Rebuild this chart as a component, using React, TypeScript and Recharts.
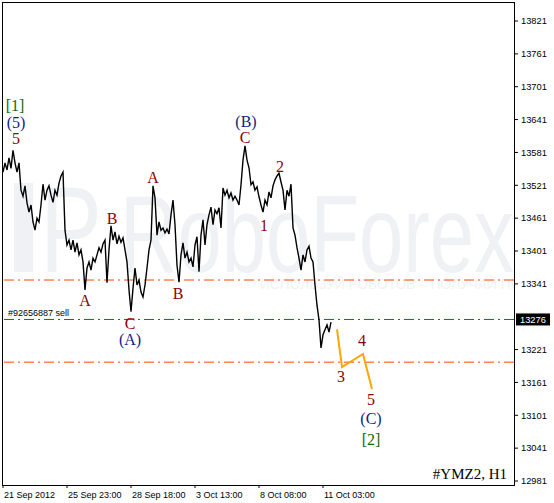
import React from 'react';
import { LineChart, Line, XAxis, YAxis, ReferenceLine, ReferenceDot, ReferenceArea } from 'recharts';

const W = 554;
const H = 503;

// H1 closes, read every second bar
const closes = [
  13545, 13562, 13549, 13571, 13552, 13585, 13562, 13545, 13562, 13512,
  13501, 13520, 13489, 13472, 13485, 13454, 13439, 13461, 13454, 13485,
  13523, 13494, 13512, 13520, 13503, 13490, 13512, 13503, 13525, 13538,
  13545, 13439, 13412, 13421, 13403, 13421, 13399, 13416, 13394, 13403,
  13381, 13330, 13370, 13381, 13366, 13388, 13381, 13394, 13407, 13399,
  13414, 13421, 13343, 13403, 13447, 13421, 13436, 13414, 13428, 13417,
  13425, 13403, 13381, 13330, 13290, 13333, 13370, 13339, 13348, 13326,
  13317, 13339, 13370, 13403, 13421, 13520, 13498, 13430, 13454, 13439,
  13443, 13434, 13441, 13432, 13467, 13494, 13449, 13375, 13344, 13394,
  13416, 13388, 13399, 13381, 13388, 13372, 13412, 13427, 13363, 13430,
  13458, 13412, 13449, 13467, 13481, 13449, 13476, 13469, 13480, 13443,
  13516, 13503, 13512, 13498, 13507, 13494, 13501, 13494, 13485, 13522,
  13567, 13593, 13567, 13553, 13522, 13527, 13512, 13518, 13500, 13485,
  13472, 13494, 13485, 13509, 13498, 13520, 13531, 13538, 13543, 13527,
  13512, 13476, 13512, 13501, 13523, 13443, 13430, 13407, 13388, 13366,
  13394, 13381, 13403, 13410, 13388, 13381, 13339, 13302, 13275, 13224,
  13248, 13257, 13266, 13253, 13271,
];
const priceData = closes.map((close, i) => ({ bar: 1 + i * 2, close }));

// forecast path 3-4-5
const projBars = [335, 340, 361, 370];
const projPrices = [13258, 13189, 13213, 13149];
const projData = projBars.map((bar, i) => ({ bar, proj: projPrices[i] }));

const tickBars = [1, 65, 129, 193, 257, 321];
const tickLabels = ['21 Sep 2012', '25 Sep 23:00', '28 Sep 18:00', '3 Oct 13:00', '8 Oct 08:00', '11 Oct 03:00'];
const priceTicks = [12981, 13041, 13101, 13161, 13221, 13341, 13401, 13461, 13521, 13581, 13641, 13701, 13761, 13821];

const levels = [13348, 13198];
const orderPrice = 13276;
const orderName = '#92656887 sell';

const RED = '#8B0000';
const BLUE = '#0F1C8A';
const GREEN = '#0B6B0B';

const waveLabels = [
  { text: '[1]', bar: 13, price: 13666, color: GREEN },
  { text: '(5)', bar: 14, price: 13635, color: BLUE },
  { text: '5', bar: 14, price: 13607, color: RED },
  { text: 'A', bar: 83, price: 13311, color: RED },
  { text: 'B', bar: 110, price: 13461, color: RED },
  { text: 'C', bar: 128, price: 13268, color: RED },
  { text: '(A)', bar: 128, price: 13240, color: BLUE },
  { text: 'A', bar: 151, price: 13536, color: RED },
  { text: 'B', bar: 176, price: 13324, color: RED },
  { text: '(B)', bar: 244, price: 13638, color: BLUE },
  { text: 'C', bar: 243, price: 13609, color: RED },
  { text: '1', bar: 262, price: 13448, color: RED },
  { text: '2', bar: 278, price: 13556, color: RED },
  { text: '3', bar: 339, price: 13171, color: RED },
  { text: '4', bar: 360, price: 13237, color: RED },
  { text: '5', bar: 369, price: 13129, color: RED },
  { text: '(C)', bar: 369, price: 13096, color: BLUE },
  { text: '[2]', bar: 369, price: 13056, color: GREEN },
];

const Y_MIN = 12973.7;
const Y_MAX = 13855.7;
const SANS = 'Liberation Sans, Arial, sans-serif';
const SERIF = 'Liberation Serif, Times New Roman, serif';

const DateTick = (props: any) => {
  const { x, y, payload } = props;
  const idx = tickBars.indexOf(payload.value);
  return (
    <text x={x + 1} y={y + 8} fontSize={9} fontFamily={SANS} fill="#000" textAnchor="start">
      {tickLabels[idx]}
    </text>
  );
};

const OrderLabel = (props: any) => {
  const { x, y, width } = props.viewBox;
  return (
    <g>
      <text x={x + 6} y={y - 3} fontSize={9} fontFamily={SANS} fill="#000">{orderName}</text>
      <rect x={x + width + 2} y={y - 6} width={34} height={12} fill="#000" />
      <text x={x + width + 6} y={y + 3.5} fontSize={9.3} fontFamily={SANS} fill="#fff">{orderPrice}</text>
    </g>
  );
};

const WM = '#eff1f5';

const App: React.FC = () => {
  return (
    <div style={{ position: 'fixed', left: 0, top: 0, width: W, height: H, background: '#fff' }}>
      <svg width={W} height={H} style={{ position: 'absolute', left: 0, top: 0 }}>
        <defs>
          <clipPath id="plotClip">
            <rect x={2} y={2} width={512} height={483} />
          </clipPath>
        </defs>
        <g clipPath="url(#plotClip)">
          <rect x={14} y={183} width={19} height={89} fill={WM} />
          <text x={40} y={272} fontSize={122} fontFamily={SANS} fill={WM} textLength={62} lengthAdjust="spacingAndGlyphs">P</text>
          <text x={120} y={272} fontSize={110} fontFamily={SANS} fill={WM} textLength={394} lengthAdjust="spacingAndGlyphs">RoboForex</text>
          <text x={260} y={289} fontSize={14} fontFamily={SANS} fill="#f1f3f6" textLength={290} lengthAdjust="spacingAndGlyphs">ИСПОЛЬЗУЙ РОБОТОВ – ПОЛУЧАЙ ПРИЗЫ</text>
        </g>
        <text x={507} y={479} fontSize={15} fontFamily={SERIF} fill="#000" textAnchor="end">#YMZ2, H1</text>
      </svg>
      <div style={{ position: 'absolute', left: 0, top: 0 }}>
        <LineChart width={W} height={H} data={priceData} margin={{ top: 2, right: 0, left: 2, bottom: 0 }}>
          <XAxis
            type="number"
            dataKey="bar"
            domain={[0, 512]}
            ticks={tickBars}
            interval={0}
            tick={<DateTick />}
            tickSize={3}
            tickMargin={2}
            height={18}
            axisLine={false}
            tickLine={{ stroke: '#000' }}
            allowDataOverflow
          />
          <YAxis
            orientation="right"
            type="number"
            domain={[Y_MIN, Y_MAX]}
            ticks={priceTicks}
            interval={0}
            width={40}
            tickSize={4}
            tickMargin={3}
            axisLine={false}
            tickLine={{ stroke: '#000' }}
            tick={{ fontSize: 9.3, fontFamily: SANS, fill: '#000' }}
            allowDataOverflow
          />
          <ReferenceArea
            x1={0}
            x2={512}
            y1={Y_MIN}
            y2={Y_MAX}
            fill="#fff"
            fillOpacity={0}
            stroke="#000"
            strokeWidth={1}
            ifOverflow="visible"
            shapeRendering="crispEdges"
          />
          {levels.map((v) => (
            <ReferenceLine key={v} y={v} stroke="#FF4500" strokeWidth={1} strokeDasharray="10 4 2 4" />
          ))}
          <ReferenceLine y={orderPrice} stroke="#008000" strokeWidth={1} strokeDasharray="10 4 2 4" label={<OrderLabel />} />
          <Line data={priceData} type="linear" dataKey="close" stroke="#000" strokeWidth={1.4} dot={false} isAnimationActive={false} />
          <Line data={projData} type="linear" dataKey="proj" stroke="#FFA500" strokeWidth={2} dot={false} isAnimationActive={false} />
          {waveLabels.map((w, i) => (
            <ReferenceDot
              key={i}
              x={w.bar}
              y={w.price}
              r={1}
              ifOverflow="visible"
              shape={(p: any) => (
                <text x={p.cx} y={p.cy} textAnchor="middle" dominantBaseline="central" fill={w.color} fontSize={16} fontFamily={SERIF}>
                  {w.text}
                </text>
              )}
            />
          ))}
        </LineChart>
      </div>
    </div>
  );
};

export default App;
